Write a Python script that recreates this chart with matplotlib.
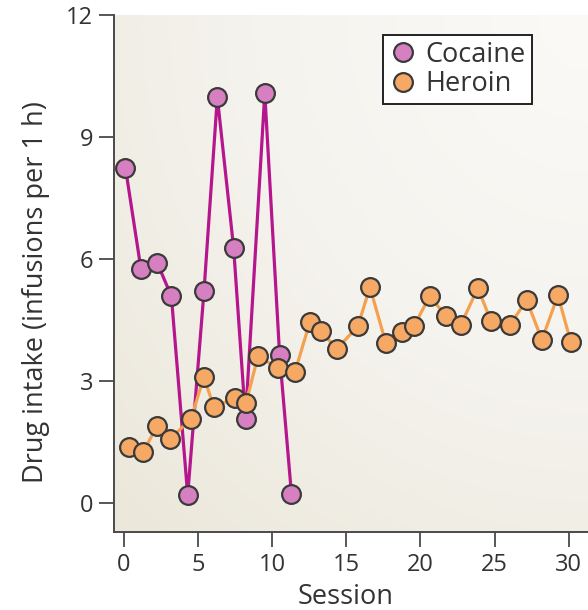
import numpy as np
import matplotlib
matplotlib.use("Agg")
import matplotlib.pyplot as plt
from matplotlib.colors import LinearSegmentedColormap
from matplotlib.lines import Line2D

# ---- data ----
cocaine_session = [0.1, 1.15, 2.25, 3.2, 4.3, 5.4, 6.3, 7.4, 8.2, 9.5, 10.5, 11.3]
cocaine_intake = [8.25, 5.75, 5.9, 5.09, 0.2, 5.21, 9.98, 6.27, 2.07, 10.08, 3.64, 0.22]

heroin_session = [0.34, 1.28, 2.23, 3.10, 4.52, 5.39, 6.07, 7.48, 8.23, 9.04,
                  10.38, 11.53, 12.54, 13.28, 14.36, 15.78, 16.59, 17.67, 18.75, 19.56,
                  20.63, 21.71, 22.72, 23.87, 24.75, 26.03, 27.17, 28.19, 29.27, 30.14]
heroin_intake = [1.38, 1.25, 1.89, 1.57, 2.07, 3.10, 2.36, 2.58, 2.46, 3.61,
                 3.32, 3.22, 4.45, 4.23, 3.79, 4.35, 5.31, 3.93, 4.20, 4.35,
                 5.09, 4.60, 4.38, 5.29, 4.48, 4.38, 4.99, 4.01, 5.11, 3.96]

x_ticks = [0, 5, 10, 15, 20, 25, 30]
y_ticks = [0, 3, 6, 9, 12]
series_names = ["Cocaine", "Heroin"]

plt.rcParams['font.family'] = ['Open Sans', 'DejaVu Sans']
TEXT = "#333333"
SPINE = "#4a4a4a"

fig = plt.figure(figsize=(5.88, 6.10), dpi=100)
ax = fig.add_axes([114/588, 1-532/610, 1-114/588, (532-15)/610])

# background radial gradient (light at top-right, beige at bottom-left)
n = 300
gx, gy = np.meshgrid(np.linspace(0, 1, n), np.linspace(0, 1, n))
d = np.sqrt((1-gx)**2 + (1-gy)**2) / np.sqrt(2)
cmap = LinearSegmentedColormap.from_list("bg", ["#fbfaf7", "#f5f3ee", "#ebe7da"])
ax.imshow(d, cmap=cmap, extent=[0, 1, 0, 1], origin="lower", aspect="auto",
          transform=ax.transAxes, zorder=0, vmin=0.0, vmax=1.0)

coc_line = "#b5168d"
coc_fill = "#d680c2"
her_line = "#f5a04f"
her_fill = "#f6a964"
edge = "#3a3a3a"

ax.plot(cocaine_session, cocaine_intake, color=coc_line, lw=2.3, zorder=2,
        marker="o", ms=13.5, mfc=coc_fill, mec=edge, mew=1.6)
ax.plot(heroin_session, heroin_intake, color=her_line, lw=2.3, zorder=3,
        marker="o", ms=13.5, mfc=her_fill, mec=edge, mew=1.6)

ax.set_xlim(-0.67, 31.3)
ax.set_ylim(-0.71, 12)
ax.set_xticks(x_ticks)
ax.set_yticks(y_ticks)
ax.tick_params(direction="out", length=11, width=1.3, color=SPINE,
               labelsize=17, labelcolor=TEXT, pad=4)
for s in ["top", "right"]:
    ax.spines[s].set_visible(False)
for s in ["left", "bottom"]:
    ax.spines[s].set_color(SPINE)
    ax.spines[s].set_linewidth(1.4)

ax.set_xlabel("Session", fontsize=19.5, color=TEXT)
ax.set_ylabel("Drug intake (infusions per 1 h)", fontsize=19.5, color=TEXT)
ax.xaxis.set_label_coords((346-114)/474, (532-597)/517)
ax.yaxis.set_label_coords((36-114)/474, (532-292)/517)
ax.xaxis.label.set_va("center")
ax.yaxis.label.set_va("center")

handles = [Line2D([], [], ls="none", marker="o", ms=13.5, mfc=coc_fill, mec=edge, mew=1.6),
           Line2D([], [], ls="none", marker="o", ms=13.5, mfc=her_fill, mec=edge, mew=1.6)]
leg = ax.legend(handles, series_names, loc="upper left",
                bbox_to_anchor=(383/588, 1-35/610), bbox_transform=fig.transFigure,
                fontsize=19.5, frameon=True, fancybox=False, framealpha=1,
                handletextpad=0.35, borderpad=0.22, labelspacing=0.05,
                handlelength=1.0, borderaxespad=0)
leg.get_frame().set_edgecolor("#222222")
leg.get_frame().set_linewidth(1.4)
for t in leg.get_texts():
    t.set_color(TEXT)

fig.savefig("out.png", dpi=100)
